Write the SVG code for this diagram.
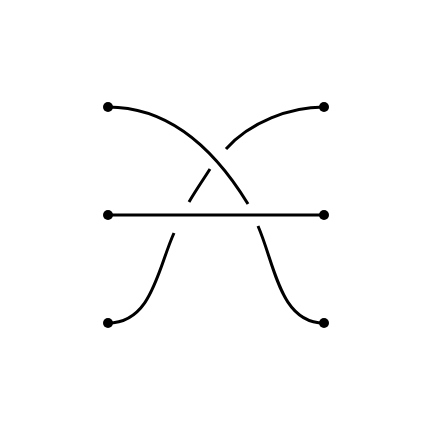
<svg xmlns="http://www.w3.org/2000/svg" width="432" height="432" viewBox="0 0 432 432">
<style>
.s{fill:none;stroke:#000;stroke-width:3;stroke-linecap:butt}
.d{fill:#000}
</style>
<rect width="432" height="432" fill="#fff"/>
<g id="connectors">
<path class="s" d="M108,107 C170,107 215,150 248,204"/>
<path class="s" d="M258,226 C275,265 280,323 324,323"/>
<path class="s" d="M324,107 C290,107 250,122 226,149"/>
<path class="s" d="M210,169 C203,180 196,190 189,202"/>
<path class="s" d="M174,233 C158,268 152,323 108,323"/>
<path class="s" d="M108,215 L324,215"/>
</g>
<g id="n1"><circle class="d" cx="108" cy="107" r="5"/></g>
<g id="n2"><circle class="d" cx="324" cy="107" r="5"/></g>
<g id="n3"><circle class="d" cx="108" cy="215" r="5"/></g>
<g id="n4"><circle class="d" cx="324" cy="215" r="5"/></g>
<g id="n5"><circle class="d" cx="108" cy="323" r="5"/></g>
<g id="n6"><circle class="d" cx="324" cy="323" r="5"/></g>
</svg>
